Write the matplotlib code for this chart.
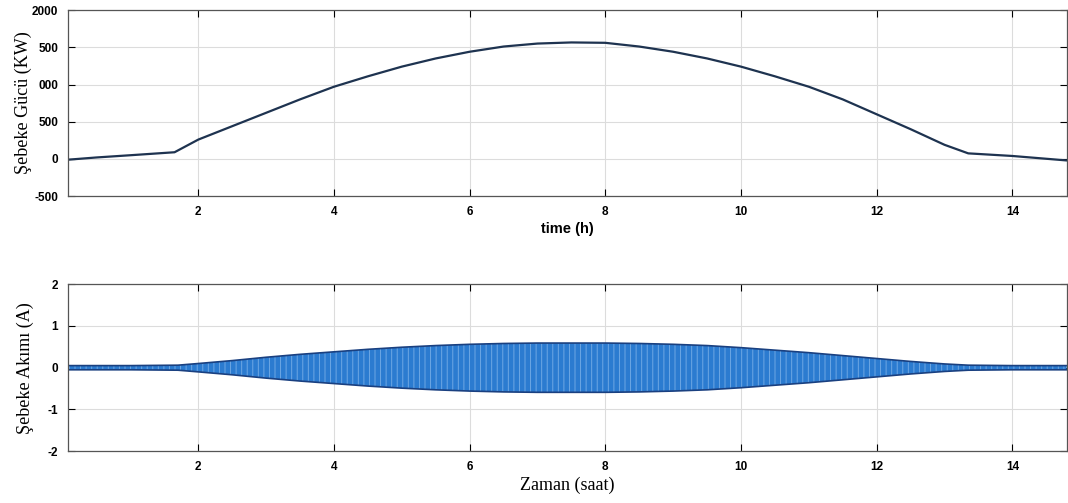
import numpy as np
import matplotlib.pyplot as plt
from matplotlib.ticker import FixedLocator

# grid power (kW)
t_power = [0.08, 0.5, 1.0, 1.65, 2.0, 2.5, 3.0, 3.5, 4.0, 4.5, 5.0, 5.5, 6.0, 6.5, 7.0,
           7.5, 8.0, 8.5, 9.0, 9.5, 10.0, 10.5, 11.0, 11.5, 12.0, 12.5, 13.0, 13.35, 14.0, 14.8]
power = [-10, 20, 50, 90, 260, 440, 620, 800, 970, 1110, 1240, 1350, 1440, 1510, 1550,
         1565, 1560, 1510, 1440, 1350, 1240, 1110, 970, 800, 600, 400, 190, 75, 40, -20]

# grid current envelope (A)
t_cur = [0.08, 1.0, 1.7, 2.0, 2.5, 3.0, 3.5, 4.0, 4.5, 5.0, 5.5, 6.0, 6.5, 7.0, 7.5, 8.0,
         8.5, 9.0, 9.5, 10.0, 10.5, 11.0, 11.5, 12.0, 12.5, 13.0, 13.35, 14.0, 14.8]
cur_env = [0.05, 0.05, 0.06, 0.10, 0.17, 0.25, 0.32, 0.38, 0.44, 0.49, 0.53, 0.56, 0.58, 0.59,
           0.59, 0.59, 0.58, 0.56, 0.53, 0.48, 0.42, 0.36, 0.29, 0.22, 0.15, 0.09, 0.06, 0.05, 0.05]

xticks = [2, 4, 6, 8, 10, 12, 14]
p_ticks = [-500, 0, 500, 1000, 1500, 2000]
p_labels = ['-500', '0', '500', '000', '500', '2000']
i_ticks = [-2, -1, 0, 1, 2]

plt.rcParams['hatch.linewidth'] = 0.7

fig = plt.figure(figsize=(10.68, 5.03), dpi=100)
ax1 = fig.add_axes([0.0637, 0.610, 0.935, 0.370])
ax2 = fig.add_axes([0.0637, 0.103, 0.935, 0.332])

tick_font = dict(family='Liberation Sans', fontsize=8.5, fontweight='bold')

for ax in (ax1, ax2):
    ax.set_xlim(0.08, 14.8)
    ax.xaxis.set_major_locator(FixedLocator(xticks))
    ax.set_xticklabels([str(v) for v in xticks], **tick_font)
    ax.grid(True, color='#dcdcdc', linewidth=0.8)
    ax.set_axisbelow(True)
    ax.tick_params(direction='in', length=5, width=0.8, top=True, right=True, pad=7)
    for s in ax.spines.values():
        s.set_color('#555555')
        s.set_linewidth(0.9)

ax1.plot(t_power, power, color='#1e3350', linewidth=1.6)
ax1.set_ylim(-500, 2000)
ax1.yaxis.set_major_locator(FixedLocator(p_ticks))
ax1.set_yticklabels(p_labels, **tick_font)
ax1.set_xlabel('time (h)', family='Liberation Sans', fontsize=10.5, fontweight='bold', labelpad=3)
ax1.set_ylabel('Şebeke Gücü (KW)', family='Liberation Serif', fontsize=13, labelpad=0)

lo = [-v for v in cur_env]
ax2.fill_between(t_cur, lo, cur_env, facecolor='#2b7bd0', edgecolor='#6ea8e4',
                 hatch='|||', linewidth=0)
ax2.plot(t_cur, cur_env, color='#1a4080', linewidth=1.2)
ax2.plot(t_cur, lo, color='#1a4080', linewidth=1.2)
ax2.set_ylim(-2, 2)
ax2.yaxis.set_major_locator(FixedLocator(i_ticks))
ax2.set_yticklabels([str(v) for v in i_ticks], **tick_font)
ax2.set_xlabel('Zaman (saat)', family='Liberation Serif', fontsize=13, labelpad=3)
ax2.set_ylabel('Şebeke Akımı (A)', family='Liberation Serif', fontsize=13, labelpad=10)

fig.savefig('out.png', dpi=100)
